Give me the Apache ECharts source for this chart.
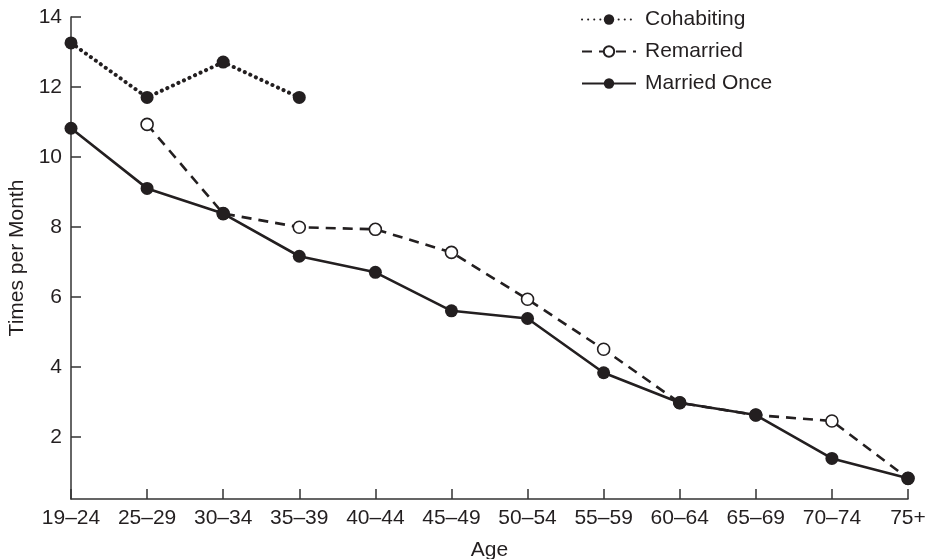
<!DOCTYPE html>
<html>
<head>
<meta charset="utf-8">
<script src="https://cdn.jsdelivr.net/npm/echarts@6/dist/echarts.min.js"></script>
<style>html,body{margin:0;padding:0;background:#fff}#c{width:930px;height:559px}</style>
</head>
<body>
<div id="c"></div>
<script>
const categories = ['19–24','25–29','30–34','35–39','40–44','45–49','50–54','55–59','60–64','65–69','70–74','75+'];
const cohabiting = [13.26, 11.70, 12.71, 11.70, null, null, null, null, null, null, null, null];
const remarried = [null, 10.93, 8.38, 7.99, 7.93, 7.27, 5.93, 4.50, 2.97, 2.62, 2.45, 0.81];
const marriedOnce = [10.82, 9.10, 8.38, 7.16, 6.70, 5.60, 5.38, 3.83, 2.97, 2.62, 1.38, 0.81];
const yTicks = [2, 4, 6, 8, 10, 12, 14];

const ink = '#231f20';
const axisInk = '#333';
const font = "'Liberation Sans', Arial, Helvetica, sans-serif";
const fs = 21;

const chart = echarts.init(document.getElementById('c'), null, {renderer: 'canvas'});
chart.setOption({
  animation: false,
  backgroundColor: '#fff',
  textStyle: {fontFamily: font, color: ink},
  grid: {left: 71, right: 22, top: 17, bottom: 60, containLabel: false, outerBoundsMode: 'none'},
  legend: {
    orient: 'vertical',
    left: 576, top: 4,
    itemWidth: 54, itemHeight: 13, itemGap: 11,
    textStyle: {fontFamily: font, fontSize: fs, color: ink, padding: [0,0,0,4]},
    data: ['Cohabiting', 'Remarried', 'Married Once']
  },
  xAxis: {
    type: 'category',
    data: categories,
    boundaryGap: false,
    name: 'Age',
    nameLocation: 'middle',
    nameGap: 41,
    nameTextStyle: {fontFamily: font, fontSize: fs, color: ink},
    axisLine: {lineStyle: {color: axisInk, width: 1.5}},
    axisTick: {inside: true, length: 10, lineStyle: {color: axisInk, width: 1.5}},
    axisLabel: {margin: 9, fontFamily: font, fontSize: fs, color: ink, interval: 0},
    splitLine: {show: false}
  },
  yAxis: {
    type: 'value',
    min: 0.22, max: 14,
    name: 'Times per Month',
    nameLocation: 'middle',
    nameGap: 42,
    nameTextStyle: {fontFamily: font, fontSize: fs, color: ink},
    axisLine: {show: true, lineStyle: {color: axisInk, width: 1.5}},
    axisTick: {show: true, inside: true, length: 10, customValues: yTicks, lineStyle: {color: axisInk, width: 1.5}},
    axisLabel: {margin: 9, fontFamily: font, fontSize: fs, color: ink, customValues: yTicks},
    splitLine: {show: false}
  },
  series: [
    {
      name: 'Cohabiting', type: 'line', data: cohabiting,
      symbol: 'circle', symbolSize: 13, showAllSymbol: true,
      itemStyle: {color: ink, borderWidth: 0},
      lineStyle: {color: ink, width: 4, type: [0.1, 6], cap: 'round'},
      z: 3
    },
    {
      name: 'Remarried', type: 'line', data: remarried,
      symbol: 'circle', symbolSize: 12, showAllSymbol: true,
      itemStyle: {color: '#fff', borderColor: ink, borderWidth: 1.6},
      lineStyle: {color: ink, width: 2.6, type: [10, 7]},
      z: 2
    },
    {
      name: 'Married Once', type: 'line', data: marriedOnce,
      symbol: 'circle', symbolSize: 13, showAllSymbol: true,
      itemStyle: {color: ink, borderWidth: 0},
      lineStyle: {color: ink, width: 2.6},
      z: 4
    }
  ]
});
</script>
</body>
</html>
